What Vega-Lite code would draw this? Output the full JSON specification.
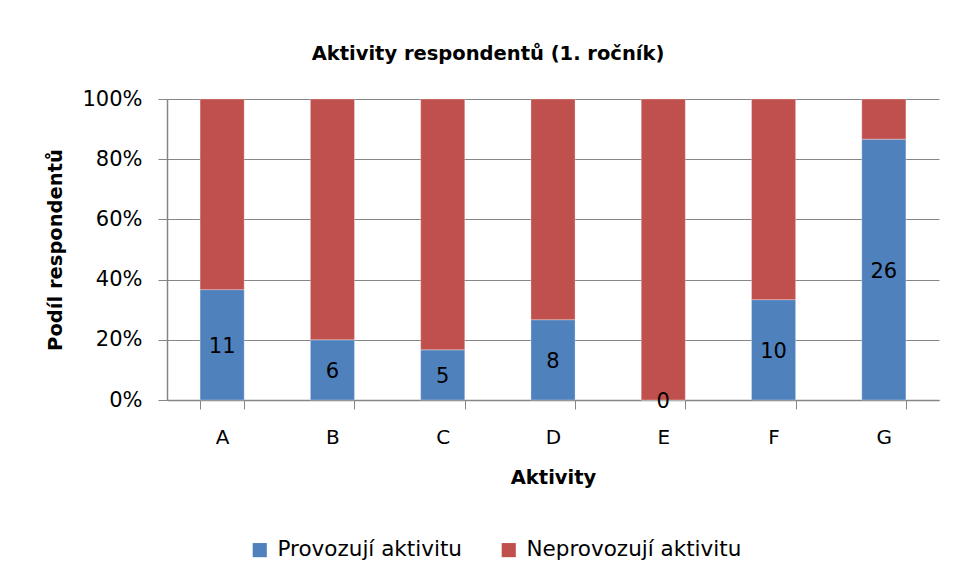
{
  "$schema": "https://vega.github.io/schema/vega-lite/v6.json",
  "autosize": {"type": "none"},
  "padding": {"left": 167, "top": 99, "right": 18, "bottom": 182},
  "width": 772,
  "height": 301,
  "background": "white",
  "config": {
    "font": "DejaVu Sans",
    "view": {"stroke": null},
    "axis": {"labelFont": "DejaVu Sans", "titleFont": "DejaVu Sans", "labelColor": "#000", "titleColor": "#000"}
  },
  "title": {
    "text": "Aktivity respondentů (1. ročník)",
    "font": "DejaVu Sans",
    "fontSize": 19.5,
    "fontWeight": "bold",
    "color": "#000",
    "anchor": "middle",
    "dx": -65,
    "offset": 24
  },
  "data": {
    "values": [
      {"aktivita": "A", "skupina": "Provozují aktivitu", "pocet": 11},
      {"aktivita": "A", "skupina": "Neprovozují aktivitu", "pocet": 19},
      {"aktivita": "B", "skupina": "Provozují aktivitu", "pocet": 6},
      {"aktivita": "B", "skupina": "Neprovozují aktivitu", "pocet": 24},
      {"aktivita": "C", "skupina": "Provozují aktivitu", "pocet": 5},
      {"aktivita": "C", "skupina": "Neprovozují aktivitu", "pocet": 25},
      {"aktivita": "D", "skupina": "Provozují aktivitu", "pocet": 8},
      {"aktivita": "D", "skupina": "Neprovozují aktivitu", "pocet": 22},
      {"aktivita": "E", "skupina": "Provozují aktivitu", "pocet": 0},
      {"aktivita": "E", "skupina": "Neprovozují aktivitu", "pocet": 30},
      {"aktivita": "F", "skupina": "Provozují aktivitu", "pocet": 10},
      {"aktivita": "F", "skupina": "Neprovozují aktivitu", "pocet": 20},
      {"aktivita": "G", "skupina": "Provozují aktivitu", "pocet": 26},
      {"aktivita": "G", "skupina": "Neprovozují aktivitu", "pocet": 4}
    ]
  },
  "transform": [
    {"stack": "pocet", "groupby": ["aktivita"], "sort": [{"field": "skupina", "order": "descending"}], "offset": "normalize", "as": ["y0", "y1"]},
    {"calculate": "(datum.y0 + datum.y1) / 2", "as": "ymid"}
  ],
  "encoding": {
    "x": {
      "field": "aktivita",
      "type": "nominal",
      "scale": {"paddingInner": 0.6, "paddingOuter": 0.3},
      "axis": {
        "title": "Aktivity",
        "titleFontSize": 19.5,
        "titleFontWeight": "bold",
        "titlePadding": 21,
        "labelAngle": 0,
        "labelFontSize": 20,
        "labelPadding": 18,
        "tickBand": "extent",
        "tickSize": 9,
        "tickColor": "#868686",
        "domainColor": "#868686",
        "domainWidth": 1.5,
        "grid": false
      }
    }
  },
  "layer": [
    {
      "mark": {"type": "bar", "stroke": "white", "strokeWidth": 0.5, "strokeOpacity": 0.6},
      "encoding": {
        "y": {
          "field": "y0",
          "type": "quantitative",
          "scale": {"domain": [0, 1], "nice": false},
          "axis": {
            "title": "Podíl respondentů",
            "titleFontSize": 19.5,
            "titleFontWeight": "bold",
            "titlePadding": 16,
            "format": "%",
            "values": [0, 0.2, 0.4, 0.6, 0.8, 1],
            "labelFontSize": 21,
            "labelPadding": 16,
            "tickSize": 9,
            "tickColor": "#868686",
            "domainColor": "#868686",
            "domainWidth": 1.5,
            "grid": true,
            "gridColor": "#868686",
            "gridWidth": 1.2
          }
        },
        "y2": {"field": "y1"},
        "color": {
          "field": "skupina",
          "type": "nominal",
          "scale": {"domain": ["Provozují aktivitu", "Neprovozují aktivitu"], "range": ["#4F81BD", "#C0504D"]},
          "legend": {
            "title": null,
            "orient": "none",
            "direction": "horizontal",
            "legendX": 82,
            "legendY": 440,
            "symbolType": "square",
            "symbolSize": 200,
            "symbolStrokeWidth": 0,
            "labelFontSize": 21.5,
            "labelFont": "DejaVu Sans",
            "labelColor": "#000",
            "labelOffset": 7,
            "columnPadding": 36,
            "labelLimit": 400
          }
        }
      }
    },
    {
      "transform": [{"filter": "datum.skupina === 'Provozují aktivitu'"}],
      "mark": {"type": "text", "fontSize": 21, "font": "DejaVu Sans", "color": "#000", "baseline": "middle", "dy": 2},
      "encoding": {
        "y": {"field": "ymid", "type": "quantitative"},
        "text": {"field": "pocet", "type": "quantitative"}
      }
    }
  ]
}
